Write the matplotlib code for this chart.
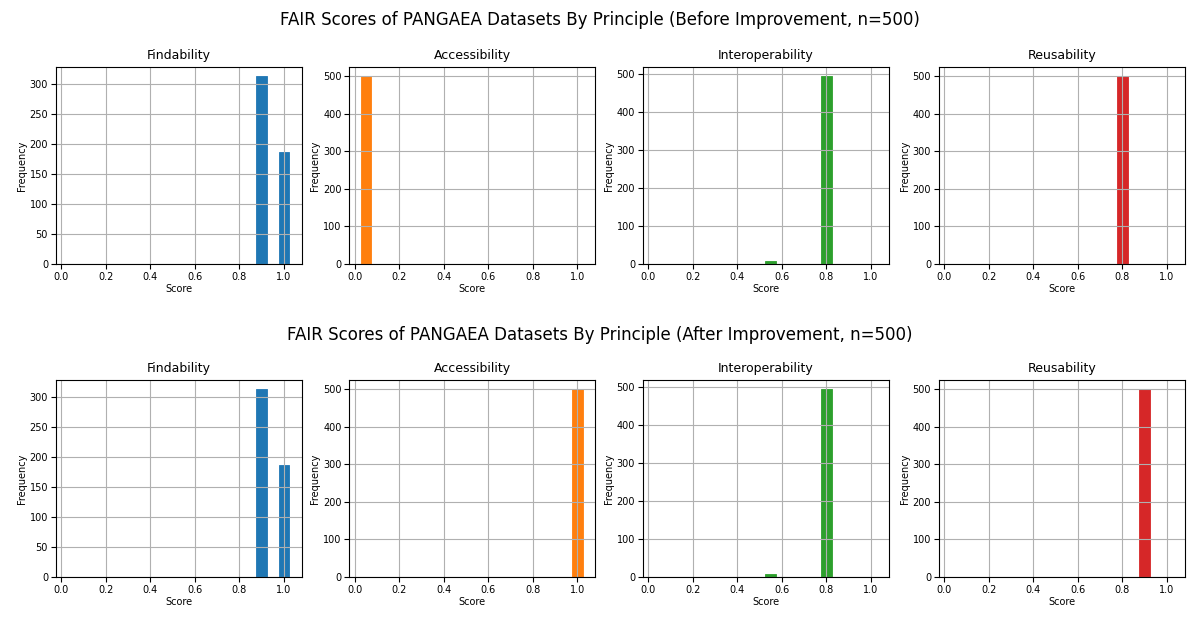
import numpy as np
import matplotlib
matplotlib.use("Agg")
import matplotlib.pyplot as plt

# === DATA (histogram counts) ===
principles = ["Findability", "Accessibility", "Interoperability", "Reusability"]
colors = ["tab:blue", "tab:orange", "tab:green", "tab:red"]

# bin centres and counts, before improvement
before_centres = [[0.90, 1.00], [0.05], [0.55, 0.80], [0.80]]
before_counts = [[313, 187], [500], [7, 493], [500]]

# bin centres and counts, after improvement
after_centres = [[0.90, 1.00], [1.00], [0.55, 0.80], [0.90]]
after_counts = [[313, 187], [500], [7, 493], [500]]

row_titles = [
    "FAIR Scores of PANGAEA Datasets By Principle (Before Improvement, n=500)",
    "FAIR Scores of PANGAEA Datasets By Principle (After Improvement, n=500)",
]

# === FIGURE ===
fig = plt.figure(figsize=(12, 6.22), dpi=100)

W, H = 1200, 622
lefts = [55.7, 349.3, 642.7, 938.7]
ax_w = 246
row_tops = [67, 380]
ax_h = 197
title_y = [20, 335]

rows = [(before_centres, before_counts), (after_centres, after_counts)]

for r, (centres, counts) in enumerate(rows):
    fig.text(0.5, 1 - title_y[r] / H, row_titles[r], ha="center", va="center", fontsize=12)
    for i, name in enumerate(principles):
        ax = fig.add_axes([lefts[i] / W, 1 - (row_tops[r] + ax_h) / H, ax_w / W, ax_h / H])
        ax.bar(centres[i], counts[i], width=0.048, color=colors[i],
               edgecolor=colors[i], linewidth=0.6)
        ax.set_xlim(-0.025, 1.08)
        ax.set_xticks([0.0, 0.2, 0.4, 0.6, 0.8, 1.0])
        ax.grid(True)
        ax.set_title(name, fontsize=9)
        ax.set_xlabel("Score", fontsize=7, labelpad=2)
        ax.set_ylabel("Frequency", fontsize=7, labelpad=2)
        ax.tick_params(labelsize=7, pad=2)

plt.savefig("out.png", dpi=100)
